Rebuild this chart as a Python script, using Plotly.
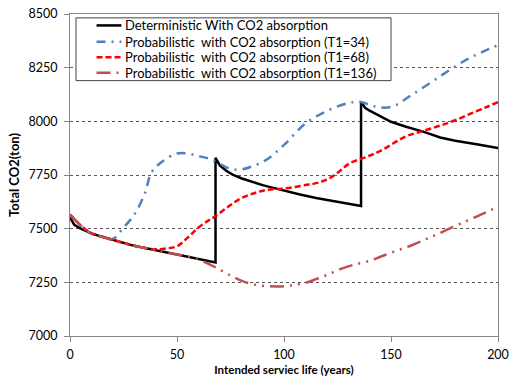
import plotly.graph_objects as go

# Deterministic total CO2 (with absorption); vertical jumps at replacement years 68 and 136
det_years = [0, 2, 5, 10, 15, 20, 25, 30, 35, 40, 45, 50, 55, 60, 65, 68,
             68, 70, 73, 76, 80, 85, 90, 95, 100, 107, 115, 120, 126, 130, 136,
             136, 138, 140, 145, 150, 157, 165, 173, 180, 190, 200]
det_co2 = [7552, 7518, 7500, 7478, 7462, 7448, 7433, 7420, 7410, 7400, 7390, 7378, 7370, 7360, 7350, 7343,
           7830, 7795, 7770, 7752, 7735, 7718, 7703, 7690, 7677, 7660, 7643, 7634, 7625, 7618, 7606,
           8090, 8062, 8050, 8022, 7998, 7975, 7952, 7925, 7910, 7893, 7876]

# Probabilistic, T1 = 34
p34_years = [0, 5, 10, 15, 20, 25, 30, 35, 38, 43, 50, 55, 60, 65, 70, 75, 80, 85,
             92, 100, 110, 120, 130, 136, 142, 150, 160, 173, 184, 192, 200]
p34_co2 = [7565, 7515, 7478, 7462, 7452, 7505, 7565, 7665, 7760, 7812, 7850, 7850, 7838, 7826, 7802, 7778, 7776, 7790,
           7822, 7890, 7990, 8048, 8085, 8090, 8070, 8067, 8125, 8210, 8280, 8320, 8355]

# Probabilistic, T1 = 68
p68_years = [0, 5, 10, 15, 20, 25, 30, 35, 40, 45, 50, 55, 60, 65, 68, 74, 80, 86, 92,
             100, 110, 115, 120, 125, 131, 138, 145, 157, 165, 173, 180, 188, 195, 200]
p68_co2 = [7565, 7515, 7478, 7462, 7448, 7433, 7420, 7410, 7404, 7408, 7418, 7458, 7505, 7540, 7558, 7603, 7642, 7665, 7681,
           7687, 7703, 7712, 7728, 7760, 7806, 7832, 7862, 7930, 7955, 7980, 8005, 8039, 8068, 8090]

# Probabilistic, T1 = 136
p136_years = [0, 5, 10, 15, 20, 25, 30, 35, 40, 45, 50, 55, 60, 65, 68, 75, 80, 87, 93, 100,
              105, 110, 115, 120, 126, 132, 140, 145, 152, 160, 168, 176, 185, 192, 200]
p136_co2 = [7565, 7515, 7478, 7462, 7448, 7433, 7420, 7410, 7400, 7390, 7380, 7370, 7358, 7335, 7320, 7282, 7258, 7238, 7232, 7232,
            7238, 7248, 7265, 7284, 7310, 7330, 7350, 7369, 7395, 7424, 7458, 7494, 7535, 7565, 7602]

series_names = [
    "Deterministic With CO2 absorption",
    "Probabilistic  with CO2 absorption (T1=34)",
    "Probabilistic  with CO2 absorption (T1=68)",
    "Probabilistic  with CO2 absorption (T1=136)",
]

x_ticks = [0, 50, 100, 150, 200]
y_ticks = [7000, 7250, 7500, 7750, 8000, 8250, 8500]

FONT = "Lato"

styles = [
    dict(color="#000000", width=2.5, dash="solid"),
    dict(color="#4F81BD", width=2.5, dash="9px,6px,2px,6px"),
    dict(color="#FF0000", width=2.5, dash="6px,3px"),
    dict(color="#C0504D", width=2.5, dash="14px,6px,2px,6px,2px,6px"),
]

fig = go.Figure()
fig.add_trace(go.Scatter(x=det_years, y=det_co2, mode="lines",
                         name=series_names[0], line=styles[0]))
fig.add_trace(go.Scatter(x=p34_years, y=p34_co2, mode="lines", line_shape="spline",
                         name=series_names[1], line=styles[1]))
fig.add_trace(go.Scatter(x=p68_years, y=p68_co2, mode="lines", line_shape="spline",
                         name=series_names[2], line=styles[2]))
fig.add_trace(go.Scatter(x=p136_years, y=p136_co2, mode="lines", line_shape="spline",
                         name=series_names[3], line=styles[3]))

# Boxed legend in the upper-left corner of the plot area (paper coordinates)
box_x0, box_x1, box_y0, box_y1 = 0.014, 0.750, 0.793, 0.988
row_y = [0.9645, 0.9140, 0.8660, 0.8175]
fig.add_shape(type="rect", xref="paper", yref="paper",
              x0=box_x0, x1=box_x1, y0=box_y0, y1=box_y1,
              line=dict(color="#404040", width=1), fillcolor="white", layer="above")
for name, style, yy in zip(series_names, styles, row_y):
    fig.add_shape(type="line", xref="paper", yref="paper",
                  x0=0.062, x1=0.120, y0=yy, y1=yy,
                  line=dict(color=style["color"], width=2.5, dash=style["dash"]), layer="above")
    fig.add_annotation(xref="paper", yref="paper", x=0.124, y=yy,
                       xanchor="left", yanchor="middle", showarrow=False,
                       text=name, font=dict(family=FONT, size=13, color="#000000"))

fig.update_layout(
    width=512, height=380,
    margin=dict(l=70, r=14, t=14, b=44),
    paper_bgcolor="white", plot_bgcolor="white",
    font=dict(family=FONT, size=12, color="#000000"),
    showlegend=False,
    xaxis=dict(
        range=[0, 200], tickvals=x_ticks, ticktext=[str(v) for v in x_ticks],
        showgrid=False, zeroline=False, automargin=False,
        showline=True, linecolor="#868686", linewidth=1, mirror=True,
        ticks="outside", ticklen=5, tickcolor="#868686", ticklabelstandoff=2,
        tickfont=dict(family=FONT, size=12.5, color="#000000"),
        title=dict(text="<b>Intended serviec life (years)</b>",
                   font=dict(family=FONT, size=11.5, color="#000000"), standoff=4),
    ),
    yaxis=dict(
        range=[7000, 8500], tickvals=y_ticks, ticktext=[str(v) for v in y_ticks],
        showgrid=True, gridcolor="#555555", gridwidth=1, griddash="dot",
        zeroline=False, automargin=False,
        showline=True, linecolor="#868686", linewidth=1, mirror=True,
        ticks="outside", ticklen=5, tickcolor="#868686", ticklabelstandoff=4,
        tickfont=dict(family=FONT, size=12.5, color="#000000"),
        title=dict(text="<b>Total CO2(ton)</b>",
                   font=dict(family=FONT, size=13, color="#000000"), standoff=5),
    ),
)

fig.write_html("out.html")
